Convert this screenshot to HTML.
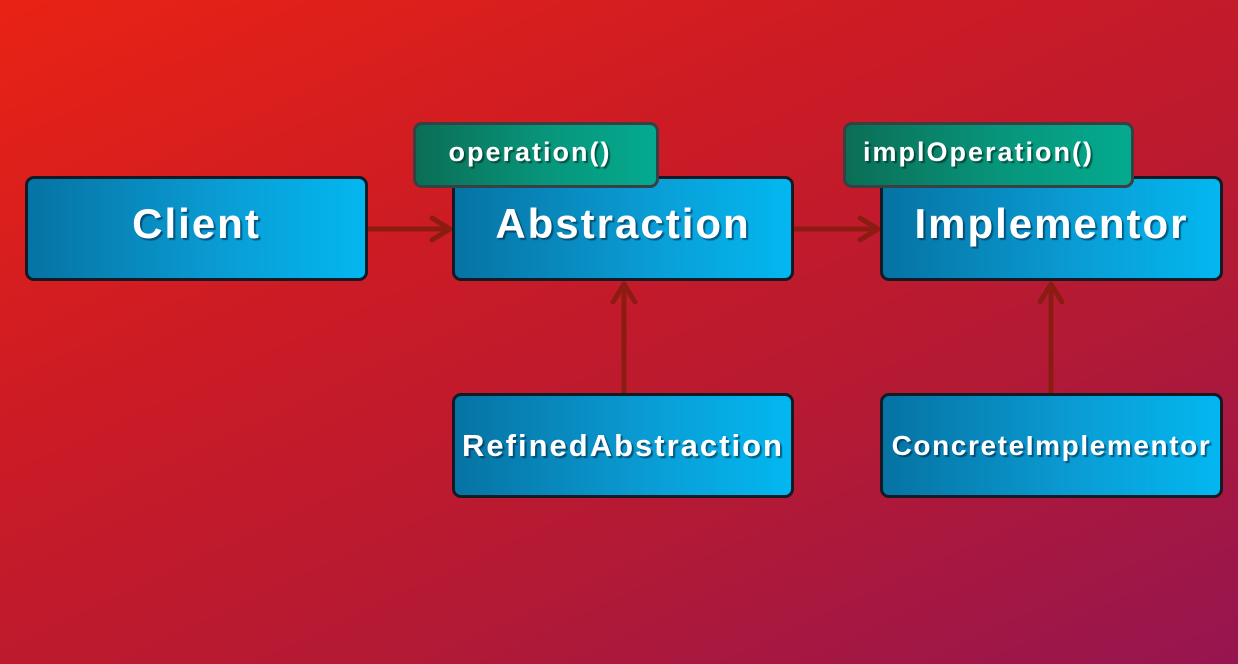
<!DOCTYPE html>
<html><head><style>
html,body{margin:0;padding:0}
body{width:1238px;height:664px;position:relative;overflow:hidden;
background:linear-gradient(155deg,#e92314 0%,#cc1b25 35%,#b51a33 65%,#961550 100%);
font-family:"Liberation Sans",sans-serif;}
.box{position:absolute;box-sizing:border-box;border:3px solid #141a24;border-radius:9px;
background:linear-gradient(90deg,#0673a3 0%,#0a9ed6 60%,#03b7f0 100%);
color:#fff;font-weight:bold;display:flex;align-items:center;justify-content:center;white-space:nowrap;
text-shadow:2px 2px 1px rgba(0,40,70,0.6);}
.tab{position:absolute;box-sizing:border-box;border:3px solid #3a3f44;border-radius:9px;
background:linear-gradient(90deg,#0b6e55 0%,#07967c 55%,#04aa8f 100%);
color:#fff;font-weight:bold;font-size:27px;letter-spacing:2px;display:flex;align-items:center;justify-content:center;white-space:nowrap;
text-shadow:2px 2px 1px rgba(0,40,30,0.6);padding-bottom:6px;}
svg{position:absolute;left:0;top:0}
</style></head><body>
<svg width="1238" height="664">
<g stroke="#8c1c12" stroke-width="5" fill="none" stroke-linecap="round" stroke-linejoin="round">
<line x1="368" y1="229" x2="450" y2="229"/><polyline points="432,218 450,229 432,240"/>
<line x1="795" y1="229" x2="878" y2="229"/><polyline points="860,218 878,229 860,240"/>
<line x1="624" y1="392" x2="624" y2="284"/><polyline points="613,302 624,284 635,302"/>
<line x1="1051" y1="392" x2="1051" y2="284"/><polyline points="1040,302 1051,284 1062,302"/>
</g>
</svg>
<div class="box" style="left:25px;top:176px;width:343px;height:105px;font-size:42px;letter-spacing:2px;padding-bottom:10px">Client</div>
<div class="box" style="left:452px;top:176px;width:342px;height:105px;font-size:42px;letter-spacing:2px;padding-bottom:10px">Abstraction</div>
<div class="box" style="left:880px;top:176px;width:343px;height:105px;font-size:42px;letter-spacing:2px;padding-bottom:10px">Implementor</div>
<div class="box" style="left:452px;top:393px;width:342px;height:105px;font-size:31px;letter-spacing:2px">RefinedAbstraction</div>
<div class="box" style="left:880px;top:393px;width:343px;height:105px;font-size:28px;letter-spacing:1.6px">ConcreteImplementor</div>
<div class="tab" style="left:413px;top:122px;width:246px;height:66px;padding-right:12px">operation()</div>
<div class="tab" style="left:843px;top:122px;width:291px;height:66px;padding-right:20px">implOperation()</div>
</body></html>
